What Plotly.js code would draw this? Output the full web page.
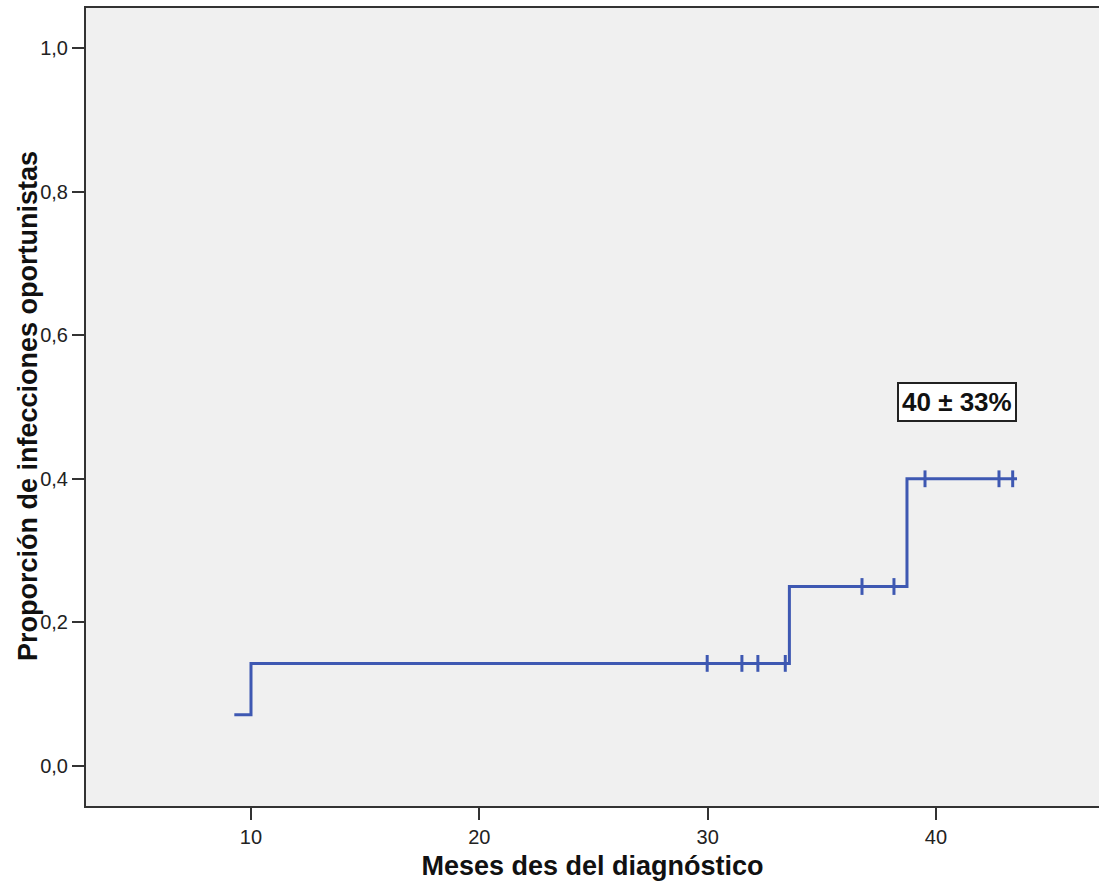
<!DOCTYPE html>
<html>
<head>
<meta charset="utf-8">
<script src="https://cdn.plot.ly/plotly-3.0.1.min.js"></script>
<style>html,body{margin:0;padding:0;background:#fff;}#chart{width:1099px;height:885px;}</style>
</head>
<body>
<div id="chart"></div>
<script>
// Step curve (cumulative proportion)
var stepX = [9.27, 10.0, 33.58, 38.73, 43.55];
var stepY = [0.0714, 0.1429, 0.25, 0.40, 0.40];
// Censored observations
var censX = [29.98, 31.50, 32.20, 33.40, 36.76, 38.16, 39.52, 42.76, 43.36];
var censY = [0.1429, 0.1429, 0.1429, 0.1429, 0.25, 0.25, 0.40, 0.40, 0.40];
var xTicks = [10, 20, 30, 40];
var yTicks = [0, 0.2, 0.4, 0.6, 0.8, 1.0];
var labelText = "40 ± 33%";
var labelX = 40.94, labelY = 0.507;
var xTitle = "Meses des del diagnóstico";
var yTitle = "Proporción de infecciones oportunistas";

var lineColor = "rgb(62,88,178)";
var fam = "Liberation Sans, Arial, sans-serif";
var traces = [
  {x: stepX, y: stepY, mode: "lines", line: {shape: "hv", color: lineColor, width: 3}, hoverinfo: "skip"},
  {x: censX, y: censY, mode: "markers", marker: {symbol: "line-ns", size: 12, line: {color: lineColor, width: 3}}, hoverinfo: "skip"}
];
var layout = {
  width: 1099, height: 885,
  margin: {l: 86, r: 0, t: 8, b: 79},
  paper_bgcolor: "#ffffff",
  plot_bgcolor: "#f0f0f0",
  showlegend: false,
  separators: ", ",
  font: {family: fam, color: "#222"},
  xaxis: {
    range: [2.774, 47.14],
    tickvals: xTicks,
    ticks: "outside", ticklen: 12, tickwidth: 2, tickcolor: "#333",
    showgrid: false, zeroline: false,
    showline: true, linecolor: "#333", linewidth: 2, mirror: true,
    tickfont: {size: 20, color: "#222"},
    title: {text: xTitle, font: {size: 27, color: "#111", family: fam, weight: "bold"}, standoff: 9}
  },
  yaxis: {
    range: [-0.0557, 1.0557],
    tickvals: yTicks,
    tickformat: ".1f",
    ticks: "outside", ticklen: 12, tickwidth: 2, tickcolor: "#333",
    showgrid: false, zeroline: false,
    showline: true, linecolor: "#333", linewidth: 2, mirror: true,
    tickfont: {size: 20, color: "#222"}
  },
  annotations: [{
    x: labelX, y: labelY, xref: "x", yref: "y",
    text: "<b>" + labelText + "</b>", showarrow: false,
    font: {size: 26, color: "#111", family: fam},
    bgcolor: "#ffffff", bordercolor: "#222", borderwidth: 2, borderpad: 3
  }, {
    x: 0, y: 0.5, xref: "paper", yref: "paper", xanchor: "center", yanchor: "middle",
    xshift: -58, yshift: 1, textangle: -90, showarrow: false,
    text: "<b>" + yTitle + "</b>",
    font: {size: 27, color: "#111", family: fam}
  }]
};
Plotly.newPlot("chart", traces, layout, {displayModeBar: false, staticPlot: true});
</script>
</body>
</html>
